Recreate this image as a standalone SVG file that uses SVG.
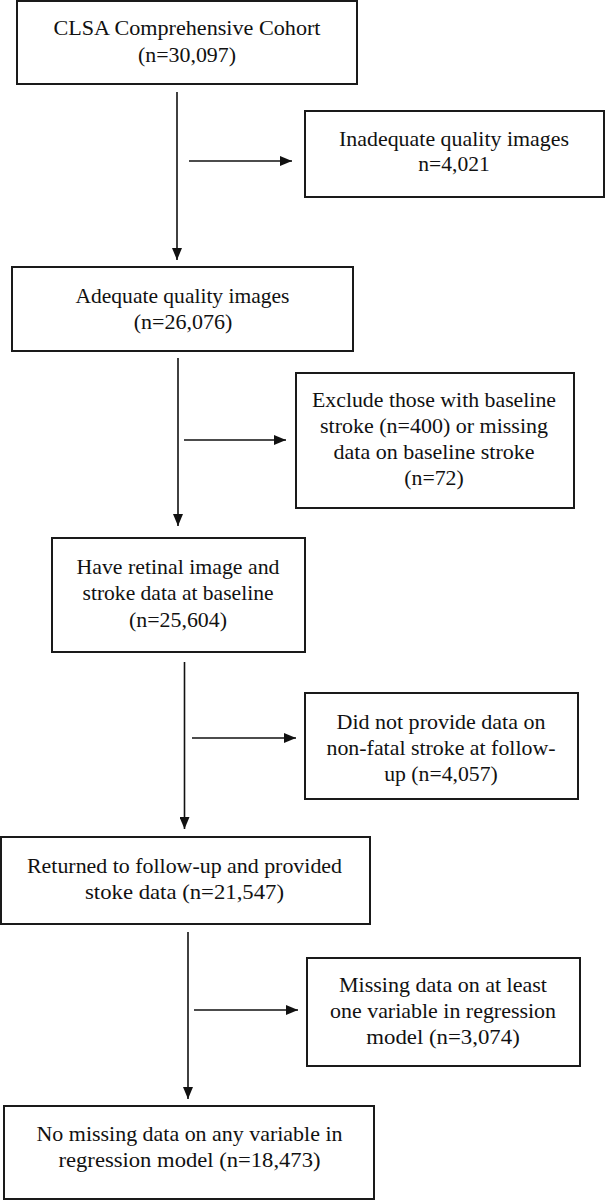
<svg xmlns="http://www.w3.org/2000/svg" width="606" height="1200" viewBox="0 0 606 1200">
<style>
.box{fill:#fff;stroke:#1a1a1a;stroke-width:2}
.t{font-size:21px;fill:#111;text-anchor:middle}
.arr{stroke:#111;stroke-width:1.6;fill:none;marker-end:url(#ah)}
</style>
<defs>
<marker id="ah" markerUnits="userSpaceOnUse" markerWidth="12" markerHeight="10" refX="12" refY="5" orient="auto">
<path d="M0,0 L12,5 L0,10 z" fill="#111"/>
</marker>
</defs>
<rect width="606" height="1200" fill="#fff"/>
<g font-family="'Liberation Serif', 'DejaVu Serif', serif">
<g id="n1">
<rect class="box" x="17" y="1" width="340" height="83"/>
<text class="t" x="187" y="35" textLength="267" lengthAdjust="spacingAndGlyphs">CLSA Comprehensive Cohort</text>
<text class="t" x="187" y="62" textLength="98" lengthAdjust="spacingAndGlyphs">(n=30,097)</text>
</g>
<g id="n2">
<rect class="box" x="305" y="111" width="299" height="86"/>
<text class="t" x="454" y="146" textLength="230" lengthAdjust="spacingAndGlyphs">Inadequate quality images</text>
<text class="t" x="454" y="171" textLength="71.5" lengthAdjust="spacingAndGlyphs">n=4,021</text>
</g>
<g id="n3">
<rect class="box" x="12" y="267" width="341" height="84"/>
<text class="t" x="182.5" y="303" textLength="214" lengthAdjust="spacingAndGlyphs">Adequate quality  images</text>
<text class="t" x="183" y="329" textLength="98.6" lengthAdjust="spacingAndGlyphs">(n=26,076)</text>
</g>
<g id="n4">
<rect class="box" x="296" y="373" width="278" height="135"/>
<text class="t" x="434" y="407" textLength="244" lengthAdjust="spacingAndGlyphs">Exclude those with baseline</text>
<text class="t" x="434" y="433" textLength="228" lengthAdjust="spacingAndGlyphs">stroke (n=400) or missing</text>
<text class="t" x="434" y="459" textLength="201" lengthAdjust="spacingAndGlyphs">data on baseline stroke</text>
<text class="t" x="434" y="485" textLength="59.5" lengthAdjust="spacingAndGlyphs">(n=72)</text>
</g>
<g id="n5">
<rect class="box" x="52" y="538" width="253" height="114"/>
<text class="t" x="178" y="574" textLength="203" lengthAdjust="spacingAndGlyphs">Have retinal image and</text>
<text class="t" x="178" y="600" textLength="191" lengthAdjust="spacingAndGlyphs">stroke data at baseline</text>
<text class="t" x="178" y="626.5" textLength="98" lengthAdjust="spacingAndGlyphs">(n=25,604)</text>
</g>
<g id="n6">
<rect class="box" x="305" y="693" width="273" height="106"/>
<text class="t" x="441" y="729" textLength="209" lengthAdjust="spacingAndGlyphs">Did not provide data on</text>
<text class="t" x="441" y="755" textLength="229" lengthAdjust="spacingAndGlyphs">non-fatal stroke at follow-</text>
<text class="t" x="441" y="781" textLength="113.6" lengthAdjust="spacingAndGlyphs">up (n=4,057)</text>
</g>
<g id="n7">
<rect class="box" x="1" y="837" width="369" height="87"/>
<text class="t" x="184.5" y="873" textLength="315" lengthAdjust="spacingAndGlyphs">Returned to follow-up and provided</text>
<text class="t" x="184.5" y="899" textLength="199" lengthAdjust="spacingAndGlyphs">stoke data  (n=21,547)</text>
</g>
<g id="n8">
<rect class="box" x="307" y="958" width="273" height="108"/>
<text class="t" x="443" y="992" textLength="208" lengthAdjust="spacingAndGlyphs">Missing data on at least</text>
<text class="t" x="443" y="1018" textLength="226" lengthAdjust="spacingAndGlyphs">one variable in regression</text>
<text class="t" x="443" y="1044" textLength="153.5" lengthAdjust="spacingAndGlyphs">model  (n=3,074)</text>
</g>
<g id="n9">
<rect class="box" x="4" y="1106" width="370" height="93"/>
<text class="t" x="189.5" y="1141" textLength="306" lengthAdjust="spacingAndGlyphs">No missing data on any variable in</text>
<text class="t" x="189.5" y="1167" textLength="262" lengthAdjust="spacingAndGlyphs">regression model  (n=18,473)</text>
</g>
</g>
<g id="connectors">
<line class="arr" x1="177" y1="92" x2="177" y2="260"/>
<line class="arr" x1="189" y1="161" x2="292" y2="161"/>
<line class="arr" x1="178" y1="358" x2="178" y2="526"/>
<line class="arr" x1="184" y1="440" x2="286" y2="440"/>
<line class="arr" x1="184.5" y1="662" x2="184.5" y2="829"/>
<line class="arr" x1="192" y1="738" x2="296" y2="738"/>
<line class="arr" x1="188" y1="932" x2="188" y2="1099"/>
<line class="arr" x1="194" y1="1010" x2="298" y2="1010"/>
</g>
</svg>
